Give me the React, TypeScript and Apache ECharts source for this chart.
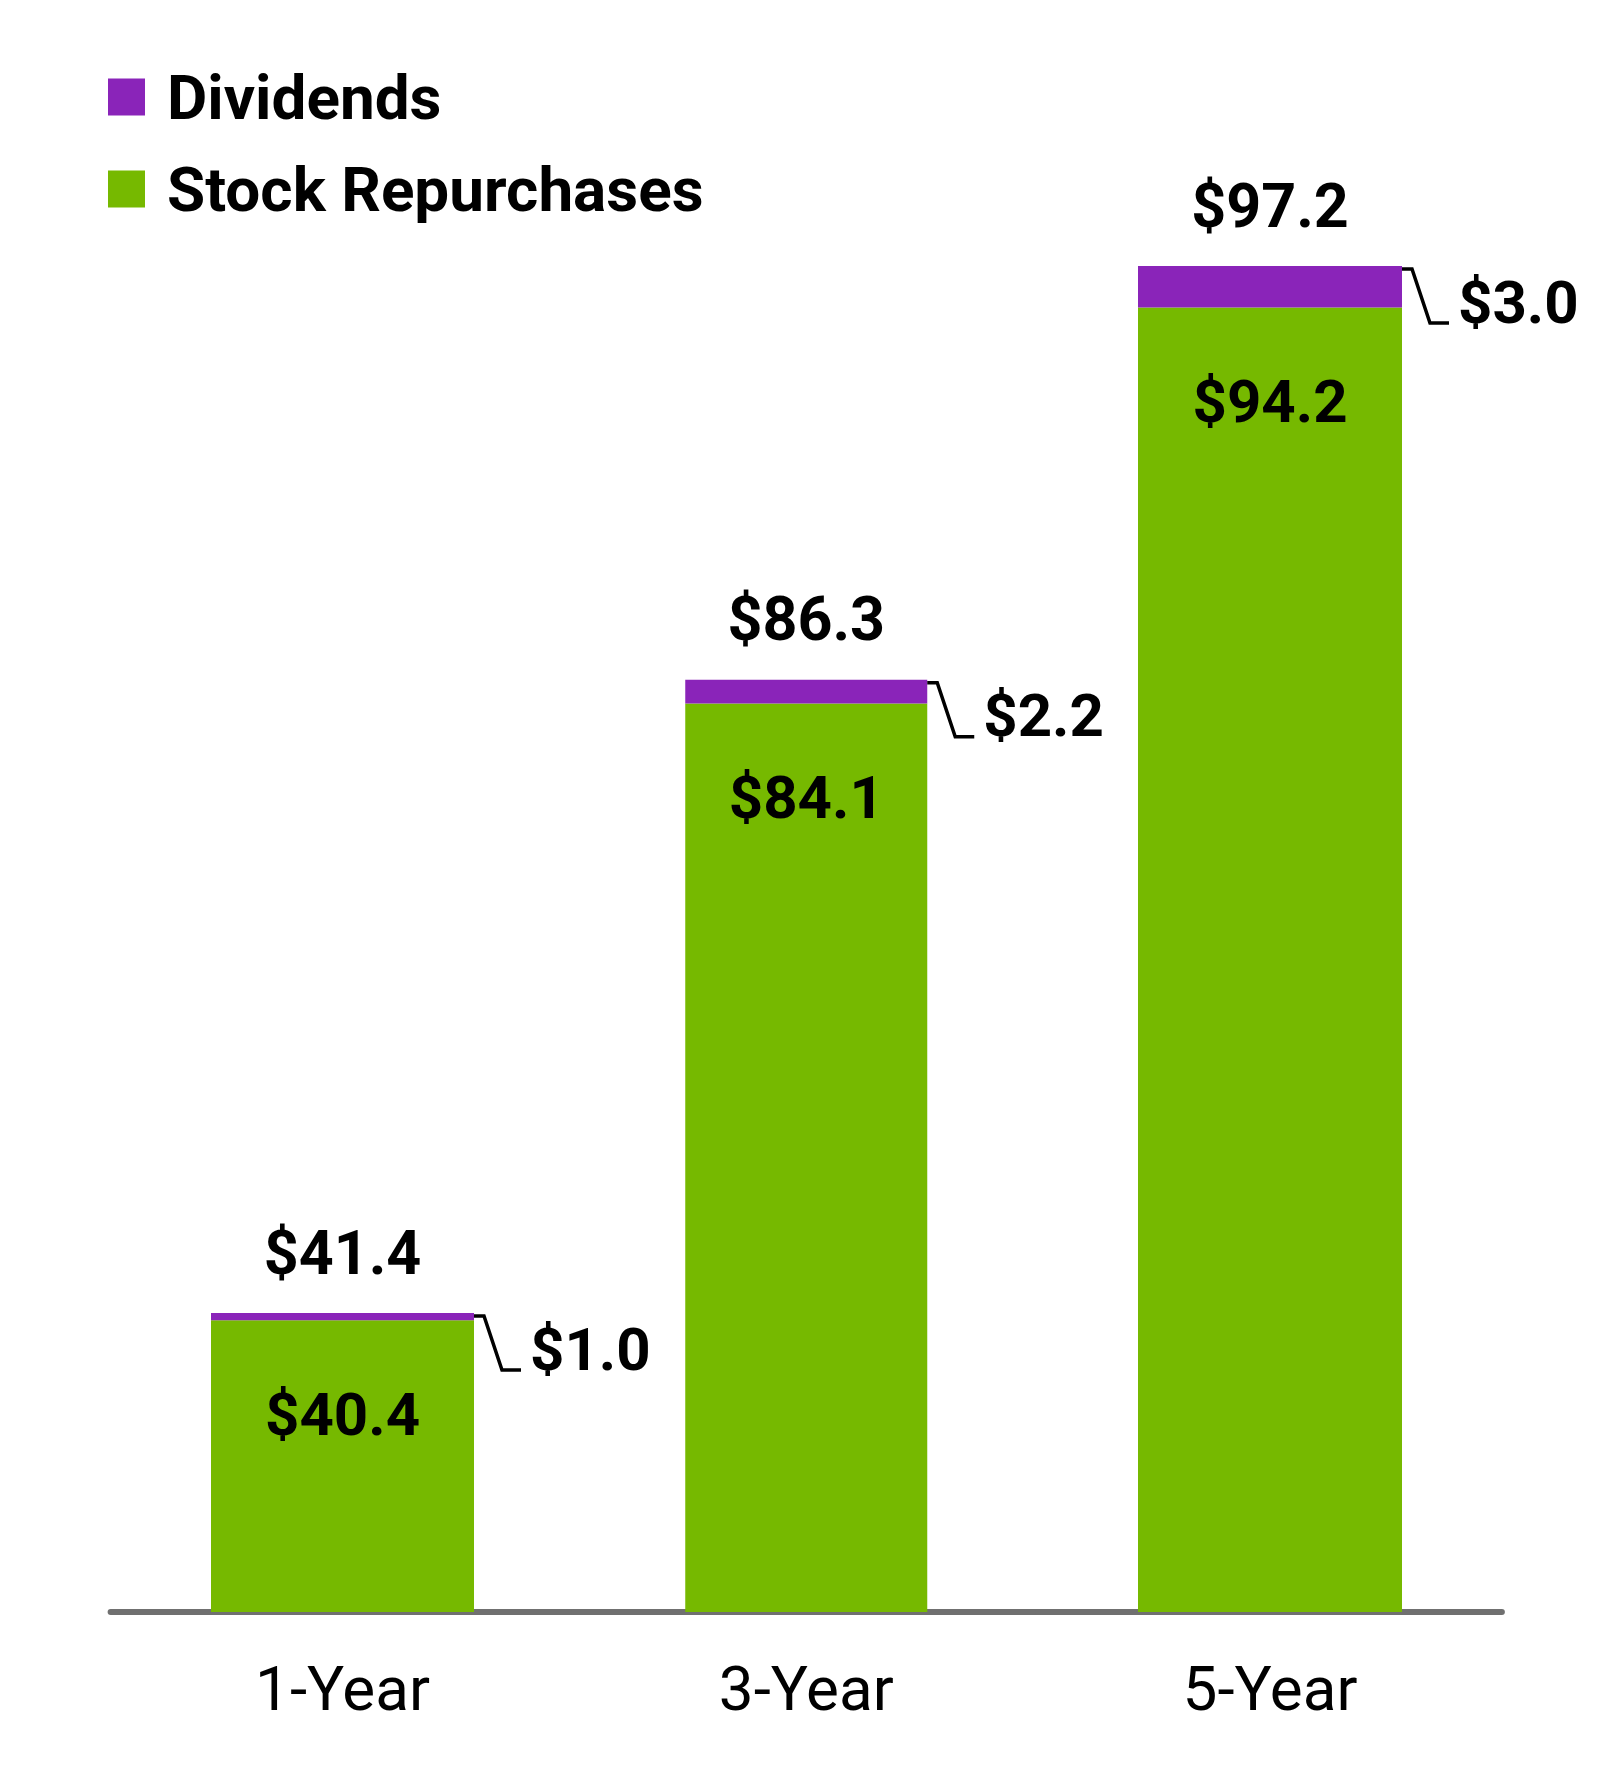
import * as echarts from 'echarts';
import { useEffect, useRef } from 'react';

// values (US$ billions)
const categories = ['1-Year', '3-Year', '5-Year'];
const repurchases = [40.4, 84.1, 94.2];
const dividends = [1.0, 2.2, 3.0];
const totals = [41.4, 86.3, 97.2];

// the source draws every bar on its own scale, so each column gets its own value axis
const axisMax = [186.4, 124.6, 97.2];
const barWidths = [263, 242, 264];

const GREEN = '#76B900';
const PURPLE = '#8A24B9';
const FONT = 'Roboto, "DejaVu Sans", sans-serif';

export default function App() {
  const chartRef = useRef<HTMLDivElement>(null);

  useEffect(() => {
    if (!chartRef.current) return;
    document.body.style.margin = '0';

    const chart = echarts.init(chartRef.current, null, { renderer: 'svg' });

    const gridWidth = 463.75;
    const gridLeft = 342.5 - gridWidth / 2;

    const grids = categories.map((_, i) => ({
      left: gridLeft + i * gridWidth,
      width: gridWidth,
      top: 266,
      height: 1346,
    }));

    const xAxes = categories.map((cat, i) => ({
      type: 'category',
      gridIndex: i,
      data: [cat],
      offset: 3,
      axisLine: { lineStyle: { color: '#707070', width: 6 } },
      axisTick: { show: false },
      axisLabel: {
        margin: 42,
        fontSize: 62,
        color: '#000',
        fontFamily: FONT,
      },
    }));

    const yAxes = categories.map((_, i) => ({
      type: 'value',
      gridIndex: i,
      min: 0,
      max: axisMax[i],
      show: false,
      splitLine: { show: false },
    }));

    const series: any[] = [];
    categories.forEach((cat, i) => {
      series.push({
        name: 'Stock Repurchases',
        type: 'bar',
        stack: 'total' + i,
        xAxisIndex: i,
        yAxisIndex: i,
        barWidth: barWidths[i],
        data: [repurchases[i]],
        itemStyle: { color: GREEN },
        label: {
          show: true,
          position: 'insideTop',
          distance: 64,
          formatter: () => '$' + repurchases[i].toFixed(1),
          fontSize: 60,
          fontWeight: 'bold',
          color: '#000',
          fontFamily: FONT,
        },
      });
      series.push({
        name: 'Dividends',
        type: 'bar',
        stack: 'total' + i,
        xAxisIndex: i,
        yAxisIndex: i,
        barWidth: barWidths[i],
        data: [dividends[i]],
        itemStyle: { color: PURPLE },
        label: {
          show: true,
          position: 'top',
          distance: 30,
          formatter: () => '$' + totals[i].toFixed(1),
          fontSize: 61,
          fontWeight: 'bold',
          color: '#000',
          fontFamily: FONT,
        },
      });
      // leader line and dividend value to the right of the bar
      series.push({
        type: 'custom',
        xAxisIndex: i,
        yAxisIndex: i,
        silent: true,
        z: 10,
        data: [[0, totals[i], dividends[i]]],
        encode: { x: 0, y: 1 },
        renderItem: (params: any, api: any) => {
          const pt = api.coord([api.value(0), api.value(1)]);
          const right = pt[0] + barWidths[i] / 2;
          const top = pt[1];
          return {
            type: 'group',
            children: [
              {
                type: 'polyline',
                shape: {
                  points: [
                    [right, top + 3],
                    [right + 10, top + 3],
                    [right + 28, top + 57],
                    [right + 47, top + 57],
                  ],
                },
                style: { stroke: '#000', lineWidth: 3.5, fill: null },
              },
              {
                type: 'text',
                style: {
                  text: '$' + Number(api.value(2)).toFixed(1),
                  x: right + 56,
                  y: top + 36,
                  verticalAlign: 'middle',
                  align: 'left',
                  fontSize: 60,
                  fontWeight: 'bold',
                  fontFamily: FONT,
                  fill: '#000',
                },
              },
            ],
          };
        },
      });
    });

    chart.setOption({
      animation: false,
      backgroundColor: '#fff',
      legend: {
        data: ['Dividends', 'Stock Repurchases'],
        orient: 'vertical',
        left: 108,
        top: 66,
        padding: 0,
        icon: 'rect',
        itemWidth: 37,
        itemHeight: 37,
        itemGap: 30,
        selectedMode: false,
        textStyle: {
          fontSize: 62,
          fontWeight: 'bold',
          color: '#000',
          fontFamily: FONT,
          lineHeight: 40,
          padding: [0, 0, 0, 17],
        },
      },
      grid: grids,
      xAxis: xAxes,
      yAxis: yAxes,
      series,
    });

    const handleResize = () => chart.resize();
    window.addEventListener('resize', handleResize);

    return () => {
      window.removeEventListener('resize', handleResize);
      chart.dispose();
    };
  }, []);

  return <div ref={chartRef} style={{ width: '1612px', height: '1766px' }} />;
}
